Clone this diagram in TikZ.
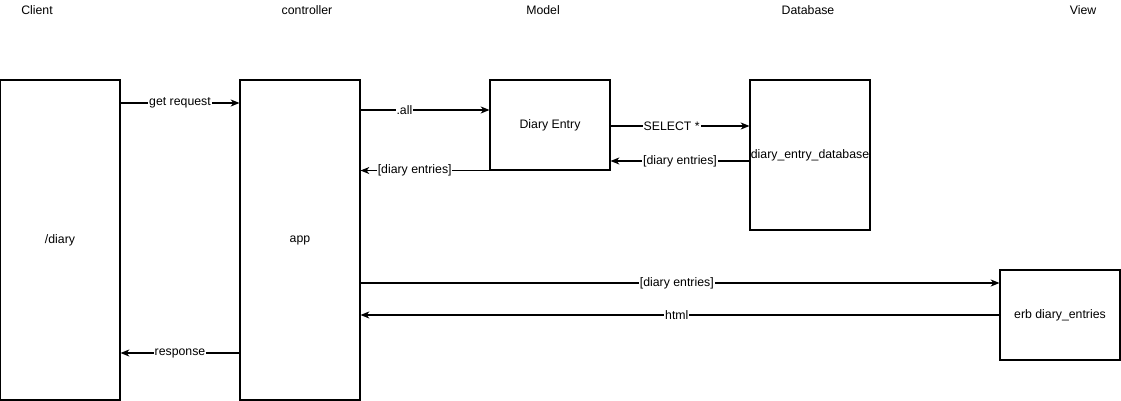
\documentclass[tikz,border=0pt]{standalone}
\usepackage{fontspec}
\setmainfont{Liberation Sans}
\usetikzlibrary{arrows.meta}
\begin{document}
\begin{tikzpicture}[x=0.02cm,y=-0.02cm,font=\fontsize{7}{8}\selectfont,
  box/.style={draw,line width=0.6pt,inner sep=0pt},
  flow/.style={line width=0.6pt,-{Stealth[length=5pt,width=4pt,inset=1.5pt]}},
  lbl/.style={fill=white,inner sep=0.5pt}]
\useasboundingbox (0,0) rectangle (1121,401);
% column headings
\foreach \x/\t in {37/Client,307/controller,543/Model,808/Database,1083/View}{\node at (\x,10) {\t};}
% boxes
\node[box,minimum width=120*0.02cm,minimum height=320*0.02cm] (client) at (60,240) {/diary};
\node[box,minimum width=120*0.02cm,minimum height=320*0.02cm] (app) at (300,240) {app};
\node[box,minimum width=120*0.02cm,minimum height=90*0.02cm] (entry) at (550,125) {Diary Entry};
\node[box,minimum width=120*0.02cm,minimum height=150*0.02cm] (db) at (810,155) {diary\_entry\_database};
\node[box,minimum width=120*0.02cm,minimum height=90*0.02cm] (view) at (1060,315) {erb diary\_entries};
% messages
\draw[flow] (client.east |- 0,103) -- node[lbl] {get request} (app.west |- 0,103);
\draw[flow] (app.east |- 0,110) -- node[lbl,pos=0.34] {.all} (entry.west |- 0,110);
\draw[flow] (entry.east |- 0,126) -- node[lbl,pos=0.44] {SELECT *} (db.west |- 0,126);
\draw[flow] (db.west |- 0,161) -- node[lbl,pos=0.5] {[diary entries]} (entry.east |- 0,161);
\draw[flow] (entry.south west) -- node[lbl,pos=0.58] {[diary entries]} (app.east |- entry.south);
\draw[flow] (app.east |- 0,283) -- node[lbl,pos=0.495] {[diary entries]} (view.west |- 0,283);
\draw[flow] (view.west |- 0,315) -- node[lbl,pos=0.505] {html} (app.east |- 0,315);
\draw[flow] (app.west |- 0,353) -- node[lbl] {response} (client.east |- 0,353);
\end{tikzpicture}
\end{document}
